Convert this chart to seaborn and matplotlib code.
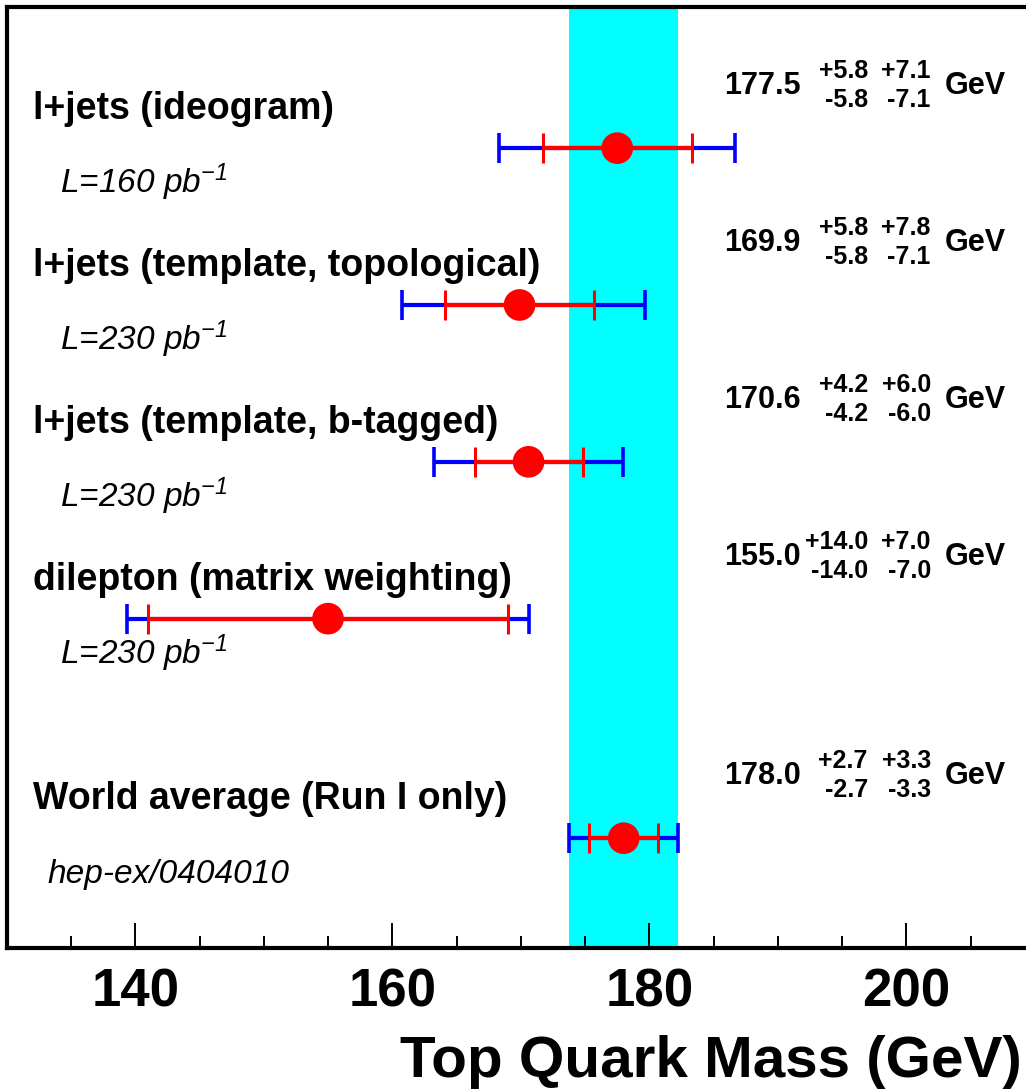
import matplotlib
matplotlib.use("Agg")
import matplotlib.pyplot as plt
import matplotlib.transforms as mtransforms
from matplotlib.ticker import MultipleLocator
import numpy as np
import pandas as pd
import seaborn as sns

# measurements (GeV)
labels = ["l+jets (ideogram)", "l+jets (template, topological)",
          "l+jets (template, b-tagged)", "dilepton (matrix weighting)",
          "World average (Run I only)"]
notes = ["L=160 pb$^{-1}$", "L=230 pb$^{-1}$", "L=230 pb$^{-1}$",
         "L=230 pb$^{-1}$", "hep-ex/0404010"]
mass = [177.5, 169.9, 170.6, 155.0, 178.0]
stat_up = [5.8, 5.8, 4.2, 14.0, 2.7]
stat_dn = [5.8, 5.8, 4.2, 14.0, 2.7]
syst_up = [7.1, 7.8, 6.0, 7.0, 3.3]
syst_dn = [7.1, 7.1, 6.0, 7.0, 3.3]

# layout: vertical slot of each row
row_y = [5.1, 4.1, 3.1, 2.1, 0.7]

df = pd.DataFrame({"label": labels, "note": notes, "mass": mass,
                   "stat_up": stat_up, "stat_dn": stat_dn,
                   "syst_up": syst_up, "syst_dn": syst_dn, "y": row_y})
df["tot_up"] = np.hypot(df["stat_up"], df["syst_up"])
df["tot_dn"] = np.hypot(df["stat_dn"], df["syst_dn"])

sns.set_theme(style="white")
plt.rcParams["font.family"] = ["Liberation Sans", "DejaVu Sans"]
plt.rcParams["mathtext.fontset"] = "custom"
plt.rcParams["mathtext.rm"] = "Liberation Sans:italic"
plt.rcParams["mathtext.it"] = "Liberation Sans:italic"
plt.rcParams["text.color"] = "black"
plt.rcParams["xtick.color"] = "black"
plt.rcParams["axes.labelcolor"] = "black"

fig = plt.figure(figsize=(10.26, 10.9), dpi=100)
W, H = 1026, 1090
ax = fig.add_axes([6.7 / W, 142 / H, (1035 - 6.7) / W, 941 / H])

# world average band
wa = df.iloc[-1]
ax.axvspan(wa["mass"] - wa["tot_dn"], wa["mass"] + wa["tot_up"],
           color="#00ffff", lw=0, zorder=0)

ax.errorbar(df["mass"], df["y"], xerr=[df["tot_dn"], df["tot_up"]],
            fmt="none", ecolor="#0000ff", elinewidth=3, capsize=10.8,
            capthick=2.6, zorder=2)
ax.errorbar(df["mass"], df["y"], xerr=[df["stat_dn"], df["stat_up"]],
            fmt="none", ecolor="#ff0000", elinewidth=3, capsize=10.8,
            capthick=2.2, zorder=3)
sns.scatterplot(data=df, x="mass", y="y", color="#ff0000", s=520,
                edgecolor="none", ax=ax, zorder=4, legend=False)


def shifted(dy_px):
    return mtransforms.offset_copy(ax.transData, fig=fig, x=0, y=dy_px, units="dots")


for _, r in df.iterrows():
    ax.text(132.05, r["y"], r["label"], fontsize=27, fontweight="bold",
            va="baseline", ha="left", transform=shifted(29))
    ax.text(134.15 if r["note"].startswith("L") else 133.2, r["y"], r["note"],
            fontsize=24, fontstyle="italic", va="baseline", ha="left",
            transform=shifted(-45))
    ax.text(185.78, r["y"], f"{r['mass']:.1f}", fontsize=22, fontweight="bold",
            va="baseline", ha="left", transform=shifted(54))
    ax.text(196.99, r["y"], f"+{r['stat_up']:.1f}", fontsize=18, fontweight="bold",
            va="baseline", ha="right", transform=shifted(70))
    ax.text(196.99, r["y"], f"-{r['stat_dn']:.1f}", fontsize=18, fontweight="bold",
            va="baseline", ha="right", transform=shifted(41))
    ax.text(201.89, r["y"], f"+{r['syst_up']:.1f}", fontsize=18, fontweight="bold",
            va="baseline", ha="right", transform=shifted(70))
    ax.text(201.89, r["y"], f"-{r['syst_dn']:.1f}", fontsize=18, fontweight="bold",
            va="baseline", ha="right", transform=shifted(41))
    ax.text(202.98, r["y"], "GeV", fontsize=22, fontweight="bold",
            va="baseline", ha="left", transform=shifted(54))

ax.set_xlim(130, 210)
ax.set_ylim(0, 6)
ax.set_xlabel("")
ax.set_ylabel("")
ax.set_yticks([])
ax.xaxis.set_major_locator(MultipleLocator(20))
ax.xaxis.set_minor_locator(MultipleLocator(5))
ax.tick_params(axis="x", which="major", direction="in", length=18, width=1.4,
               pad=14, labelsize=38, labelcolor="black", bottom=True, top=False)
ax.tick_params(axis="x", which="minor", direction="in", length=8.6, width=1.4,
               bottom=True, top=False)
for t in ax.get_xticklabels():
    t.set_fontweight("bold")
for side in ["left", "bottom", "top", "right"]:
    ax.spines[side].set_color("black")
    ax.spines[side].set_linewidth(3)

fig.text(1022 / W, 13 / H, "Top Quark Mass (GeV)", fontsize=42, fontweight="bold",
         ha="right", va="baseline", color="black")

fig.savefig("out.png", dpi=100)
